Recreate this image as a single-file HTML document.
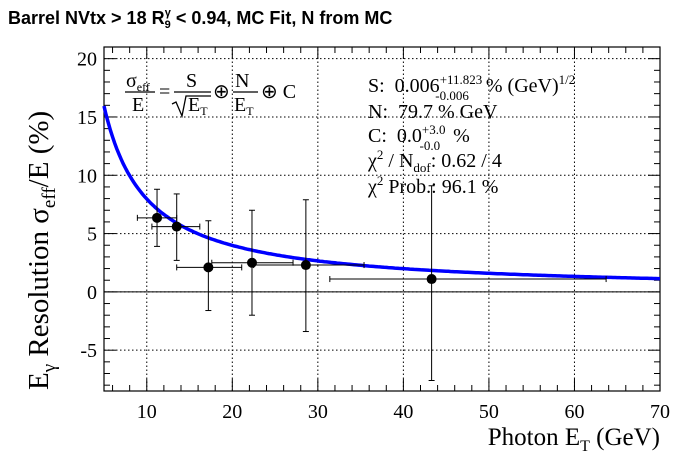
<!DOCTYPE html>
<html><head><meta charset="utf-8"><style>
body{margin:0;background:#fff;}
svg{display:block;font-family:"Liberation Serif",serif;}
</style></head><body>
<svg id="c" width="696" height="472" viewBox="0 0 696 472">
<text x="8" y="24" font-family="Liberation Sans, sans-serif" font-weight="bold" font-size="18">Barrel NVtx &gt; 18 R<tspan font-size="11" dy="4">9</tspan><tspan font-size="11" dx="-6" dy="-12">γ</tspan><tspan dy="8"> &lt; 0.94, MC Fit, N from MC</tspan></text>
<g id="grid"></g>
<g id="axes"></g>
<g id="marks"></g>
<g font-size="20">
<text x="368" y="92">S:&#160; 0.006<tspan font-size="13" dy="-8">+11.823</tspan><tspan font-size="13" dx="-47" dy="16">-0.006</tspan><tspan dx="12" dy="-8">&#160;% (GeV)</tspan><tspan font-size="13" dy="-8">1/2</tspan></text>
<text x="368" y="118">N:&#160; 79.7 % GeV</text>
<text x="368" y="142">C:&#160; 0.0<tspan font-size="13" dy="-8">+3.0</tspan><tspan font-size="13" dx="-26" dy="16">-0.0</tspan><tspan dx="8" dy="-8">&#160;%</tspan></text>
<text x="368" y="167">χ<tspan font-size="13" dy="-8">2</tspan><tspan dy="8"> / N</tspan><tspan font-size="13" dy="5">dof</tspan><tspan dy="-5">: 0.62 / 4</tspan></text>
<text x="368" y="193">χ<tspan font-size="13" dy="-8">2</tspan><tspan dy="8"> Prob.: 96.1 %</tspan></text>
</g>
<g font-size="20">
<text x="126" y="87">σ<tspan font-size="12" dy="4">eff</tspan></text>
<line x1="125" y1="92" x2="155" y2="92" stroke="#000" stroke-width="1.3"/>
<text x="132" y="111">E</text>
<text x="159" y="98">=</text>
<text x="186" y="87">S</text>
<line x1="174" y1="92" x2="211" y2="92" stroke="#000" stroke-width="1.3"/>
<polyline points="172,104 176,102 182,116 186,96 211,96" fill="none" stroke="#000" stroke-width="1.3"/>
<text x="188" y="111">E<tspan font-size="12" dy="4">T</tspan></text>
<text x="213" y="98">⊕</text>
<text x="235" y="87">N</text>
<line x1="233" y1="92" x2="258" y2="92" stroke="#000" stroke-width="1.3"/>
<text x="234" y="111">E<tspan font-size="12" dy="4">T</tspan></text>
<text x="261" y="98">⊕ C</text>
</g>
<text transform="translate(48,390) rotate(-90)" font-size="29">E<tspan font-size="19" dy="7">γ</tspan><tspan dy="-7"> Resolution σ</tspan><tspan font-size="19" dy="7">eff</tspan><tspan dy="-7">/E (%)</tspan></text>
<text x="660" y="445" text-anchor="end" font-size="25">Photon E<tspan font-size="16" dy="6">T</tspan><tspan dy="-6"> (GeV)</tspan></text>
</svg>
<script>
const xVals=[11.2,13.5,17.2,22.3,28.6,43.3];
const yVals=[6.35,5.6,2.1,2.5,2.3,1.1];
const xLo=[8.9,10.6,13.5,17.6,22.5,31.4];
const xHi=[13.5,16.2,21.1,27.1,35.4,63.7];
const yLo=[3.9,2.7,-1.6,-2.0,-3.4,-7.6];
const yHi=[8.8,8.4,6.1,7.0,7.9,9.1];
const fitS=0.006, fitN=79.7, fitC=0.0;
const xTicks=[10,20,30,40,50,60,70];
const yTicks=[-5,0,5,10,15,20];
const X0=104,X1=660,Y0=391,Y1=47,xmin=5,xmax=70,ymin=-8.5,ymax=21;
const sx=v=>X0+(v-xmin)/(xmax-xmin)*(X1-X0);
const sy=v=>Y0-(v-ymin)/(ymax-ymin)*(Y0-Y1);
const NS='http://www.w3.org/2000/svg';
function mk(p,t,a){const e=document.createElementNS(NS,t);for(const k in a)e.setAttribute(k,a[k]);p.appendChild(e);return e;}
const grid=document.getElementById('grid'),axes=document.getElementById('axes'),marks=document.getElementById('marks');
xTicks.forEach(v=>{if(v<xmax){const l=mk(grid,'line',{x1:sx(v),x2:sx(v),y1:Y0,y2:Y1,stroke:'#000','stroke-dasharray':'1.5,2.5','stroke-width':1});

}});
yTicks.forEach(v=>{const l=mk(grid,'line',{x1:X0,x2:X1,y1:sy(v),y2:sy(v),stroke:'#000','stroke-dasharray':'1.5,2.5','stroke-width':1});

});
const zl=mk(axes,'line',{x1:X0,x2:X1,y1:sy(0),y2:sy(0),stroke:'#000','stroke-width':1});


const fr=mk(axes,'rect',{x:X0,y:Y1,width:X1-X0,height:Y0-Y1,fill:'none',stroke:'#000','stroke-width':1.2});


for(let v=6;v<=70;v+=2){const L=(v%10===0)?12:6;
mk(axes,'line',{x1:sx(v),x2:sx(v),y1:Y0,y2:Y0-L,stroke:'#000'});mk(axes,'line',{x1:sx(v),x2:sx(v),y1:Y1,y2:Y1+L,stroke:'#000'});}
for(let v=-8;v<=21;v+=1){const L=(v%5===0)?12:6;
mk(axes,'line',{x1:X0,x2:X0+L,y1:sy(v),y2:sy(v),stroke:'#000'});mk(axes,'line',{x1:X1,x2:X1-L,y1:sy(v),y2:sy(v),stroke:'#000'});}
xTicks.forEach(v=>{const t=mk(axes,'text',{x:sx(v),y:Y0+27,'text-anchor':'middle','font-size':20});t.textContent=v;

});
yTicks.forEach(v=>{const t=mk(axes,'text',{x:X0-7,y:sy(v)+7,'text-anchor':'end','font-size':20});t.textContent=v;

});
let d='';for(let e=xmin;e<=xmax;e+=0.25){const r=Math.sqrt(fitS*fitS/e+(fitN/e)*(fitN/e)+fitC*fitC);d+=(d?'L':'M')+sx(e).toFixed(1)+','+sy(r).toFixed(1);}
const fit=mk(marks,'path',{d:d,fill:'none',stroke:'#0000ff','stroke-width':3.5});


xVals.forEach((x,i)=>{const g=mk(marks,'g',{});


mk(g,'line',{x1:sx(xLo[i]),x2:sx(xHi[i]),y1:sy(yVals[i]),y2:sy(yVals[i]),stroke:'#000'});
mk(g,'line',{x1:sx(xLo[i]),x2:sx(xLo[i]),y1:sy(yVals[i])-3,y2:sy(yVals[i])+3,stroke:'#000'});
mk(g,'line',{x1:sx(xHi[i]),x2:sx(xHi[i]),y1:sy(yVals[i])-3,y2:sy(yVals[i])+3,stroke:'#000'});
mk(g,'line',{x1:sx(x),x2:sx(x),y1:sy(yLo[i]),y2:sy(yHi[i]),stroke:'#000'});
mk(g,'line',{x1:sx(x)-3,x2:sx(x)+3,y1:sy(yLo[i]),y2:sy(yLo[i]),stroke:'#000'});
mk(g,'line',{x1:sx(x)-3,x2:sx(x)+3,y1:sy(yHi[i]),y2:sy(yHi[i]),stroke:'#000'});
mk(g,'circle',{cx:sx(x),cy:sy(yVals[i]),r:5,fill:'#000'});});
</script>
</body></html>
